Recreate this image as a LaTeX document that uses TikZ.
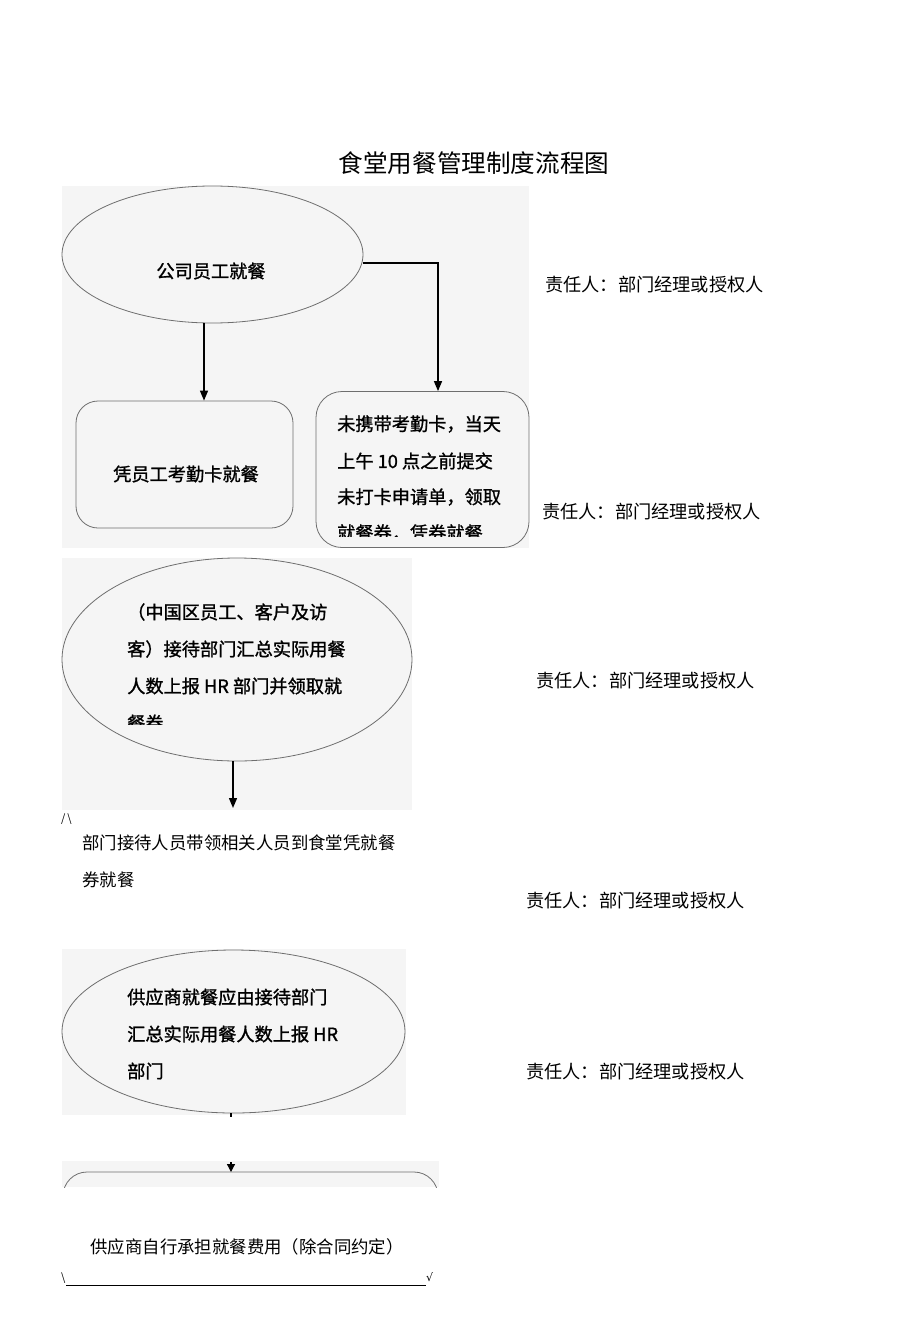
\documentclass[tikz,border=0pt]{standalone}
\usepackage{fontspec}
\setmainfont{Noto Sans CJK SC}
\newfontfamily\boxfont{Noto Sans CJK SC}[FakeBold=1.2]
\newfontfamily\symfont{DejaVu Sans}
\usetikzlibrary{shapes.geometric,arrows.meta,calc}
\definecolor{panel}{RGB}{245,245,245}
\definecolor{edge}{RGB}{110,110,110}
\tikzset{
  txt/.style={font=\boxfont\fontsize{18.2}{18}\selectfont, inner sep=0pt, anchor=west, text=black},
  plain/.style={font=\fontsize{17.4}{17}\selectfont, inner sep=0pt, anchor=west, text=black},
  resp/.style={font=\fontsize{18.2}{18}\selectfont, inner sep=0pt, anchor=west, text=black},
  oval/.style={ellipse, draw=edge, line width=0.8pt, inner sep=0pt},
  rbox/.style={draw=edge, line width=0.8pt, rounded corners=22pt, inner sep=0pt},
  arr/.style={line width=1.4pt, -{Triangle[width=8pt,length=10pt]}},
  bg/.style={fill=panel, draw=none}
}
\begin{document}
\begin{tikzpicture}[x=1pt,y=-1pt]
\useasboundingbox (0,0) rectangle (920,1319);
\fill[white] (0,0) rectangle (920,1319);

% title
\node[font=\fontsize{24.6}{24}\selectfont, inner sep=0pt] (title) at (474,163) {食堂用餐管理制度流程图};

% ---------- panel 1
\fill[panel] (62,186) rectangle (529,548);
\node[oval, minimum width=301pt, minimum height=137pt] (e1) at (212.5,254.5) {};
\node[font=\boxfont\fontsize{18.2}{18}\selectfont, inner sep=0pt] (t1) at (211,271) {公司员工就餐};
\node[rbox, minimum width=217pt, minimum height=127pt] (b1) at (184.5,464.5) {};
\node[font=\boxfont\fontsize{18.2}{18}\selectfont, inner sep=0pt] (t2) at (186,474) {凭员工考勤卡就餐};
\node[rbox, rounded corners=26pt, minimum width=213pt, minimum height=156pt] (b2) at (422.5,469.5) {};
\node[txt] (t3a) at (337,424) {未携带考勤卡，当天};
\node[txt] (t3b) at (337,461) {上午 10 点之前提交};
\node[txt] (t3c) at (337,497) {未打卡申请单，领取};
\begin{scope}
\clip (320,520) rectangle (525,536);
\node[txt] (t3d) at (337,533) {就餐券，凭券就餐};
\end{scope}
\coordinate (s1) at ($(e1.south)+(-8.5,0)$);
\draw[arr] (s1) -- (s1 |- b1.north);
\coordinate (s2a) at (438,263);
\draw[arr] (e1.east |- s2a) -- (s2a) -- (s2a |- b2.north);

\node[resp] (r1) at (545,285) {责任人：部门经理或授权人};
\node[resp] (r2) at (542,512) {责任人：部门经理或授权人};

% ---------- panel 2
\fill[panel] (62,558) rectangle (412,810);
\node[oval, minimum width=350pt, minimum height=203pt] (e2) at (237,659.5) {};
\node[txt] (t4a) at (127,612) {（中国区员工、客户及访};
\node[txt] (t4b) at (127,649) {客）接待部门汇总实际用餐};
\node[txt] (t4c) at (127,686) {人数上报 HR 部门并领取就};
\begin{scope}
\clip (120,705) rectangle (200,724);
\node[txt] (t4d) at (127,723) {餐券};
\end{scope}
\coordinate (a2) at (233,808);
\draw[arr] (e2.south -| a2) -- (a2);
\node[resp] (r3) at (536,681) {责任人：部门经理或授权人};

\node[font=\fontsize{11}{11}\selectfont, inner sep=0pt, anchor=west] (sl) at (61,819) {/\,\textbackslash};
\node[plain] (t5a) at (82,843) {部门接待人员带领相关人员到食堂凭就餐};
\node[plain] (t5b) at (82,880) {券就餐};
\node[resp] (r4) at (526,901) {责任人：部门经理或授权人};

% ---------- panel 3
\fill[panel] (62,949) rectangle (406,1115);
\node[oval, minimum width=343pt, minimum height=163pt] (e3) at (233.5,1031.5) {};
\node[txt] (t6a) at (127,997) {供应商就餐应由接待部门};
\node[txt] (t6b) at (127,1034) {汇总实际用餐人数上报 HR};
\node[txt] (t6c) at (127,1071) {部门};
\coordinate (a3) at (231,1117);
\draw[line width=1.2pt] (e3.south -| a3) -- (a3);
\node[resp] (r5) at (526,1072) {责任人：部门经理或授权人};

% ---------- panel 4
\fill[panel] (62,1161) rectangle (439,1187);
\begin{scope}
\clip (62,1161) rectangle (439,1187);
\draw[edge, line width=0.8pt, rounded corners=24pt] (63,1300) -- (63,1172) -- (438,1172) -- (438,1300);
\end{scope}
\coordinate (a4t) at (231,1162);
\coordinate (a4) at (231,1172);
\draw[line width=1.2pt, -{Triangle[width=8pt,length=8pt]}] (a4t) -- (a4);

\node[font=\fontsize{17.4}{17}\selectfont, inner sep=0pt] (t7) at (247,1247) {供应商自行承担就餐费用（除合同约定）};
\node[font=\fontsize{11}{11}\selectfont, inner sep=0pt, anchor=west] (bl) at (61,1278) {\textbackslash};
\node[font=\symfont\fontsize{11}{11}\selectfont, inner sep=0pt, anchor=west] (br) at (426,1277) {√};
\coordinate (ul) at (66,1285);
\coordinate (ur) at (426,1285);
\draw[line width=0.9pt] (ul) -- (ur);
\end{tikzpicture}
\end{document}
